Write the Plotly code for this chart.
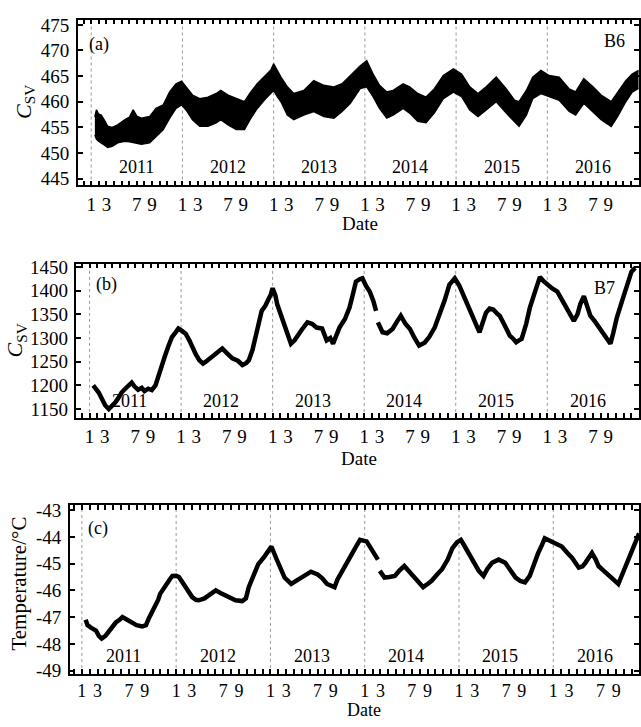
import plotly.graph_objects as go

# ---------------- data (decimal years) ----------------
# Panel (a): B6, C_SV noisy band -> upper / lower envelope
b6_t = [2011.04, 2011.057, 2011.08, 2011.11, 2011.15, 2011.18, 2011.23, 2011.29, 2011.37, 2011.42,
        2011.46, 2011.50, 2011.55, 2011.64, 2011.71, 2011.79, 2011.86, 2011.93, 2011.99, 2012.04,
        2012.11, 2012.19, 2012.28, 2012.37, 2012.42, 2012.50, 2012.59, 2012.68, 2012.75, 2012.82,
        2012.91, 2012.97, 2013.00, 2013.04, 2013.08, 2013.15, 2013.22, 2013.33, 2013.44, 2013.55,
        2013.66, 2013.75, 2013.84, 2013.95, 2014.02, 2014.09, 2014.16, 2014.24, 2014.31, 2014.42,
        2014.49, 2014.58, 2014.67, 2014.76, 2014.86, 2014.97, 2015.06, 2015.15, 2015.24, 2015.33,
        2015.44, 2015.55, 2015.64, 2015.69, 2015.77, 2015.84, 2015.93, 2016.02, 2016.13, 2016.24,
        2016.31, 2016.40, 2016.50, 2016.59, 2016.70, 2016.77, 2016.86, 2016.93, 2017.00]
b6_upper = [457.0, 458.4, 457.6, 457.4, 456.2, 455.2, 455.0, 455.5, 456.5, 457.0,
            458.4, 457.2, 456.8, 457.1, 458.7, 459.4, 461.9, 463.5, 464.0, 462.9,
            461.3, 460.6, 460.9, 461.6, 462.2, 461.3, 460.6, 460.0, 461.9, 463.5,
            465.1, 466.2, 467.4, 466.0, 464.8, 462.9, 461.6, 462.2, 464.1, 463.2,
            462.9, 463.5, 465.1, 467.0, 468.0, 465.4, 463.2, 461.9, 462.2, 463.5,
            462.9, 461.6, 460.9, 462.5, 465.1, 466.4, 465.4, 462.9, 461.6, 462.9,
            464.8, 462.5, 460.3, 460.0, 462.2, 464.8, 466.1, 465.1, 464.8, 462.5,
            461.9, 464.5, 462.9, 461.3, 460.0, 461.9, 464.1, 465.4, 466.1]
b6_lower = [453.5, 452.7, 452.3, 452.0, 451.5, 451.1, 451.3, 452.0, 452.3, 452.2,
            452.0, 451.9, 451.7, 452.0, 453.3, 454.6, 456.8, 458.7, 459.4, 458.4,
            456.5, 455.2, 455.2, 455.9, 456.5, 455.5, 454.6, 454.6, 456.8, 458.7,
            460.6, 461.6, 462.2, 461.0, 460.0, 457.4, 456.5, 457.4, 458.1, 457.1,
            456.8, 458.1, 459.7, 462.6, 462.9, 461.0, 458.7, 456.8, 457.4, 458.7,
            457.8, 456.2, 455.9, 457.8, 460.6, 461.9, 461.0, 458.4, 457.1, 458.4,
            460.0, 457.8, 456.2, 455.2, 457.4, 460.6, 461.6, 461.0, 460.3, 458.1,
            457.4, 459.7, 458.1, 456.5, 455.2, 457.1, 460.0, 461.9, 462.6]

# Panel (b): B7, C_SV
b7_t = [2011.04, 2011.07, 2011.10, 2011.14, 2011.17, 2011.21, 2011.24, 2011.28, 2011.32, 2011.35,
        2011.39, 2011.42, 2011.46, 2011.49, 2011.53, 2011.57, 2011.60, 2011.64, 2011.68, 2011.72,
        2011.75, 2011.79, 2011.82, 2011.86, 2011.90, 2011.94, 2011.97, 2012.01, 2012.05, 2012.09,
        2012.12, 2012.16, 2012.20, 2012.24, 2012.27, 2012.32, 2012.38, 2012.42, 2012.45, 2012.50,
        2012.56, 2012.62, 2012.67, 2012.71, 2012.74, 2012.78, 2012.81, 2012.85, 2012.88, 2012.92,
        2012.95, 2012.98, 2013.00, 2013.03, 2013.05, 2013.09, 2013.13, 2013.17, 2013.20, 2013.24,
        2013.27, 2013.32, 2013.38, 2013.43, 2013.48, 2013.54, 2013.59, 2013.63, 2013.66, 2013.70,
        2013.73, 2013.79, 2013.84, 2013.88, 2013.91, 2013.95, 2013.98, 2014.02, 2014.06, 2014.10,
        2014.13, 2014.14, 2014.15, 2014.20, 2014.25, 2014.31, 2014.36, 2014.40, 2014.45, 2014.50,
        2014.55, 2014.60, 2014.66, 2014.71, 2014.77, 2014.82, 2014.88, 2014.93, 2014.99, 2015.04,
        2015.08, 2015.14, 2015.19, 2015.23, 2015.26, 2015.30, 2015.33, 2015.37, 2015.41, 2015.45,
        2015.48, 2015.54, 2015.59, 2015.63, 2015.66, 2015.69, 2015.72, 2015.77, 2015.81, 2015.87,
        2015.92, 2015.96, 2016.00, 2016.05, 2016.11, 2016.17, 2016.22, 2016.26, 2016.29, 2016.33,
        2016.36, 2016.40, 2016.44, 2016.47, 2016.52, 2016.58, 2016.63, 2016.69, 2016.72, 2016.76,
        2016.82, 2016.87, 2016.92, 2016.96]
b7_csv = [1200, 1192, 1185, 1170, 1158, 1150, 1155, 1164, 1175, 1185,
          1193, 1198, 1206, 1198, 1191, 1195, 1188, 1193, 1190, 1200,
          1216, 1238, 1260, 1282, 1302, 1312, 1320, 1315, 1309, 1295,
          1281, 1266, 1253, 1246, 1250, 1258, 1267, 1272, 1278, 1268,
          1257, 1252, 1243, 1247, 1253, 1275, 1302, 1330, 1357, 1368,
          1378, 1392, 1405, 1390, 1371, 1350, 1329, 1306, 1288, 1295,
          1305, 1318, 1333, 1330, 1322, 1320, 1295, 1300, 1288, 1305,
          1322, 1340, 1364, 1395, 1419, 1424, 1426, 1410, 1398, 1378,
          1357, None, 1333, 1312, 1310, 1319, 1335, 1347, 1330, 1319,
          1300, 1284, 1290, 1302, 1322, 1347, 1380, 1412, 1426, 1410,
          1391, 1365, 1343, 1325, 1312, 1340, 1353, 1362, 1360, 1352,
          1347, 1325, 1305, 1298, 1291, 1295, 1298, 1330, 1364, 1400,
          1429, 1420, 1412, 1405, 1398, 1378, 1357, 1345, 1336, 1350,
          1371, 1388, 1365, 1347, 1335, 1319, 1305, 1288, 1310, 1343,
          1380, 1412, 1440, 1448]

# Panel (c): temperature
temp_t = [2011.04, 2011.06, 2011.10, 2011.15, 2011.18, 2011.21, 2011.25, 2011.28, 2011.32, 2011.36,
          2011.40, 2011.43, 2011.48, 2011.53, 2011.58, 2011.64, 2011.68, 2011.71, 2011.75, 2011.78,
          2011.81, 2011.83, 2011.86, 2011.89, 2011.93, 2011.96, 2012.00, 2012.03, 2012.07, 2012.10,
          2012.14, 2012.17, 2012.21, 2012.24, 2012.30, 2012.35, 2012.42, 2012.47, 2012.52, 2012.58,
          2012.63, 2012.70, 2012.74, 2012.77, 2012.82, 2012.87, 2012.94, 2012.98, 2013.01, 2013.06,
          2013.10, 2013.15, 2013.22, 2013.27, 2013.33, 2013.43, 2013.50, 2013.55, 2013.60, 2013.68,
          2013.71, 2013.75, 2013.80, 2013.86, 2013.91, 2013.95, 2014.02, 2014.09, 2014.14, 2014.15,
          2014.16, 2014.21, 2014.26, 2014.32, 2014.37, 2014.42, 2014.46, 2014.51, 2014.57, 2014.62,
          2014.67, 2014.71, 2014.77, 2014.82, 2014.88, 2014.93, 2014.98, 2015.02, 2015.06, 2015.11,
          2015.16, 2015.21, 2015.26, 2015.30, 2015.35, 2015.42, 2015.49, 2015.55, 2015.60, 2015.65,
          2015.70, 2015.75, 2015.80, 2015.84, 2015.88, 2015.91, 2015.98, 2016.04, 2016.09, 2016.15,
          2016.20, 2016.27, 2016.31, 2016.34, 2016.41, 2016.45, 2016.48, 2016.53, 2016.58, 2016.64,
          2016.69, 2016.72, 2016.76, 2016.82, 2016.87, 2016.91]
temp_val = [-47.1, -47.3, -47.4, -47.5, -47.7, -47.8, -47.7, -47.55, -47.4, -47.2,
            -47.1, -47.0, -47.1, -47.2, -47.3, -47.35, -47.3, -47.05, -46.8, -46.56,
            -46.35, -46.13, -45.95, -45.76, -45.6, -45.46, -45.45, -45.5, -45.7, -45.88,
            -46.1, -46.25, -46.35, -46.37, -46.3, -46.19, -46.0, -46.1, -46.19, -46.3,
            -46.37, -46.4, -46.3, -45.88, -45.45, -45.03, -44.72, -44.55, -44.36, -44.79,
            -45.15, -45.52, -45.76, -45.65, -45.52, -45.3, -45.4, -45.55, -45.76, -45.88,
            -45.6, -45.33, -45.0, -44.66, -44.35, -44.11, -44.17, -44.54, -44.85, None,
            -45.27, -45.52, -45.5, -45.46, -45.25, -45.09, -45.25, -45.46, -45.7, -45.88,
            -45.75, -45.64, -45.4, -45.21, -44.85, -44.42, -44.2, -44.11, -44.35, -44.66,
            -44.98, -45.27, -45.46, -45.2, -44.97, -44.85, -44.97, -45.25, -45.52, -45.65,
            -45.7, -45.46, -44.95, -44.6, -44.3, -44.05, -44.17, -44.3, -44.36, -44.6,
            -44.79, -45.15, -45.1, -44.97, -44.6, -44.85, -45.09, -45.25, -45.4, -45.6,
            -45.76, -45.5, -45.15, -44.6, -44.11, -43.87]

years = [2011, 2012, 2013, 2014, 2015, 2016]
month_labels = {1: "1", 3: "3", 7: "7", 9: "9"}
y_ticks_a = [445, 450, 455, 460, 465, 470, 475]
y_ticks_b = [1150, 1200, 1250, 1300, 1350, 1400, 1450]
y_ticks_c = [-49, -48, -47, -46, -45, -44, -43]

# ---------------- figure ----------------
W, H = 641, 727
FONT = "Liberation Serif"
TICK_SIZE = 19


def px(x):
    return x / W


def py(y):
    return 1 - y / H


fig = go.Figure()

# (a) band
fig.add_trace(go.Scatter(x=b6_t, y=b6_upper, mode="lines", line=dict(color="black", width=1.5),
                         xaxis="x", yaxis="y", showlegend=False, hoverinfo="skip"))
fig.add_trace(go.Scatter(x=b6_t, y=b6_lower, mode="lines", line=dict(color="black", width=1.5),
                         fill="tonexty", fillcolor="black",
                         xaxis="x", yaxis="y", showlegend=False, hoverinfo="skip"))
# (b)
fig.add_trace(go.Scatter(x=b7_t, y=b7_csv, mode="lines", line=dict(color="black", width=4.5),
                         xaxis="x2", yaxis="y2", showlegend=False))
# (c)
fig.add_trace(go.Scatter(x=temp_t, y=temp_val, mode="lines", line=dict(color="black", width=4.5),
                         xaxis="x3", yaxis="y3", showlegend=False))

# ticks: every month
tickvals = [2010 + 11 / 12]
ticktext = [""]
for yr in years:
    for m in range(1, 13):
        tickvals.append(yr + (m - 1) / 12)
        ticktext.append(month_labels.get(m, ""))
tickvals.append(2017.0)
ticktext.append("")

common = dict(showline=True, linecolor="black", linewidth=1.5, mirror="ticks",
              ticks="inside", ticklen=5, tickwidth=1.5, tickcolor="black",
              showgrid=False, zeroline=False,
              tickfont=dict(family=FONT, size=TICK_SIZE, color="black"))


def xax(domain, rng, anchor, standoff=1, size=TICK_SIZE):
    d = dict(common)
    d.update(domain=domain, range=rng, anchor=anchor, tickmode="array",
             tickvals=tickvals, ticktext=ticktext, ticklabelstandoff=standoff,
             tickfont=dict(family=FONT, size=size, color="black"))
    return d


def yax(domain, rng, anchor, vals):
    d = dict(common)
    d.update(domain=domain, range=rng, anchor=anchor, tickmode="array",
             tickvals=vals, ticktext=[str(v) for v in vals], ticklabelstandoff=3)
    return d


fig.update_layout(
    width=W, height=H,
    margin=dict(l=0, r=0, t=0, b=0),
    paper_bgcolor="white", plot_bgcolor="white",
    font=dict(family=FONT, size=18, color="black"),
    xaxis=xax([px(78), 1.0], [2010.8525, 2017.005], "y"),
    yaxis=yax([py(182), py(13)], [443.66, 476.0], "x", y_ticks_a),
    xaxis2=xax([px(76.7), 1.0], [2010.857, 2017.002], "y2"),
    yaxis2=yax([py(419), py(261.7)], [1131.4, 1456.8], "x2", y_ticks_b),
    xaxis3=xax([px(70), 1.0], [2010.872, 2016.909], "y3", standoff=0, size=18),
    yaxis3=yax([py(680), py(508)], [-49.121, -42.817], "x3", y_ticks_c),
)

# year dotted lines
shapes = []
for xr, yr_ref in (("x", "y"), ("x2", "y2"), ("x3", "y3")):
    for yr in years:
        shapes.append(dict(type="line", xref=xr, yref=yr_ref + " domain", x0=yr, x1=yr, y0=0, y1=1,
                           line=dict(color="#9a9a9a", width=1, dash="dot"), layer="below"))
fig.update_layout(shapes=shapes)

ann = []
# year labels inside panels
for xr, yr_ref, yfrac, shift in (("x", "y", 0.112, 0.0), ("x2", "y2", 0.108, -0.06), ("x3", "y3", 0.106, -0.06)):
    for yr in years:
        ann.append(dict(xref=xr, yref=yr_ref + " domain", x=yr + 0.5 + shift, y=yfrac, text=str(yr),
                        showarrow=False, font=dict(family=FONT, size=18, color="black"),
                        xanchor="center", yanchor="middle"))


def lab(x, y, text, size=18, angle=0):
    ann.append(dict(xref="paper", yref="paper", x=px(x), y=py(y), text=text, showarrow=False,
                    textangle=angle, font=dict(family=FONT, size=size, color="black"),
                    xanchor="center", yanchor="middle"))


lab(99, 38, "(a)")
lab(616.7, 35, "B6")
lab(106.7, 283, "(b)")
lab(606.7, 286.7, "B7")
lab(98, 531.7, "(c)")

lab(361, 221, "Date", size=19)
lab(360, 460, "Date", size=19)
lab(365, 717, "Date", size=18)

lab(25, 97, "<i>C</i><sub>SV</sub>", size=22, angle=-90)
lab(17, 340, "<i>C</i><sub>SV</sub>", size=22, angle=-90)
lab(19, 588, "Temperature/°C", size=21, angle=-90)

fig.update_layout(annotations=ann)

fig.write_html("out.html")
